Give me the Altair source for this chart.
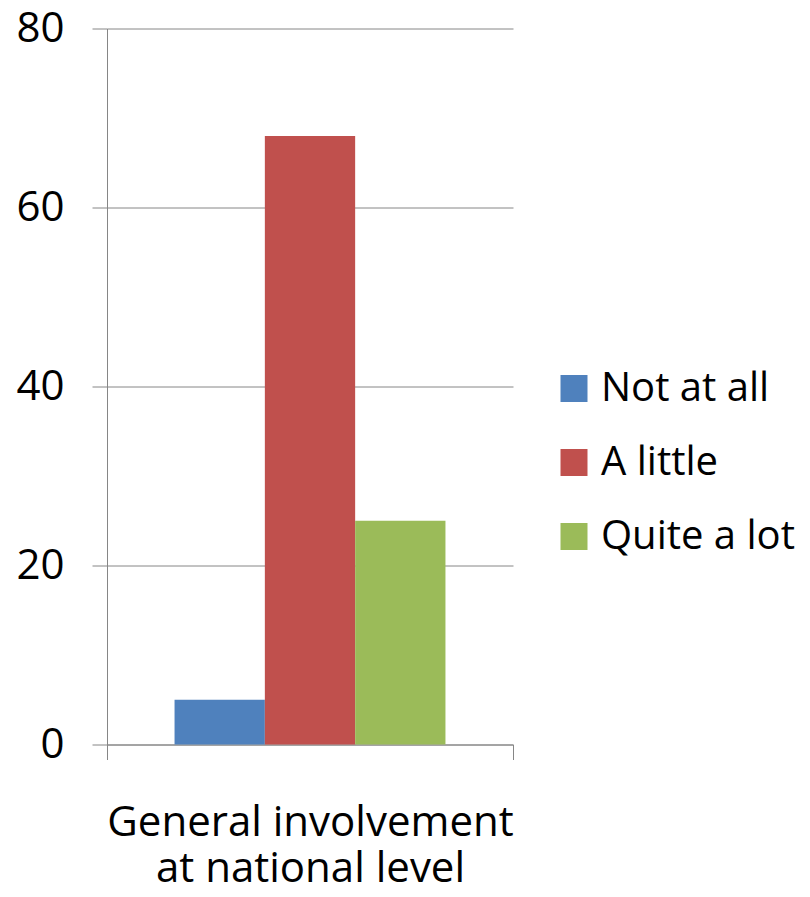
import altair as alt
import pandas as pd

categories = ["General involvement|at national level"]
series = ["Not at all", "A little", "Quite a lot"]
values = [5, 68, 25]
colors = ["#4F81BD", "#C0504D", "#9BBB59"]
y_ticks = [0, 20, 40, 60, 80]

df = pd.DataFrame({
    "category": [categories[0]] * len(series),
    "series": series,
    "value": values,
})

FONT = "Open Sans"
GRAY = "#868686"

chart = alt.Chart(df).mark_bar().encode(
    x=alt.X(
        "category:N",
        scale=alt.Scale(paddingInner=0, paddingOuter=0),
        axis=alt.Axis(
            title=None,
            labelAngle=0,
            labelExpr="split(datum.label, '|')",
            tickBand="extent",
            tickSize=15,
            tickColor=GRAY,
            domainColor=GRAY,
            labelFontSize=42,
            labelFont=FONT,
            labelColor="black",
            labelPadding=43,
            labelLineHeight=46,
            labelBaseline="top",
            labelLimit=0,
        ),
    ),
    xOffset=alt.XOffset(
        "series:N",
        sort=series,
        scale=alt.Scale(domain=series, paddingInner=0, paddingOuter=0.748),
    ),
    y=alt.Y(
        "value:Q",
        scale=alt.Scale(domain=[0, 80]),
        axis=alt.Axis(
            title=None,
            values=y_ticks,
            grid=True,
            gridColor=GRAY,
            gridWidth=1,
            tickSize=15,
            tickColor=GRAY,
            domainColor=GRAY,
            labelFontSize=42,
            labelFont=FONT,
            labelColor="black",
            labelPadding=28,
        ),
    ),
    color=alt.Color(
        "series:N",
        sort=series,
        scale=alt.Scale(domain=series, range=colors),
        legend=alt.Legend(
            title=None,
            orient="none",
            legendX=447,
            legendY=340,
            symbolType="square",
            symbolSize=729,
            symbolStrokeWidth=0,
            symbolOpacity=1,
            labelFontSize=40,
            labelFont=FONT,
            labelColor="black",
            rowPadding=34,
            labelOffset=7,
            labelLimit=0,
            padding=0,
        ),
    ),
).properties(
    width=406,
    height=716,
    autosize=alt.AutoSizeParams(type="none"),
    padding={"left": 99, "top": 20.5, "right": 289, "bottom": 145},
).configure_view(stroke=None).configure_axis(domainWidth=1, tickWidth=1)

chart.save("out.html", embed_options={"renderer": "svg", "actions": False})
